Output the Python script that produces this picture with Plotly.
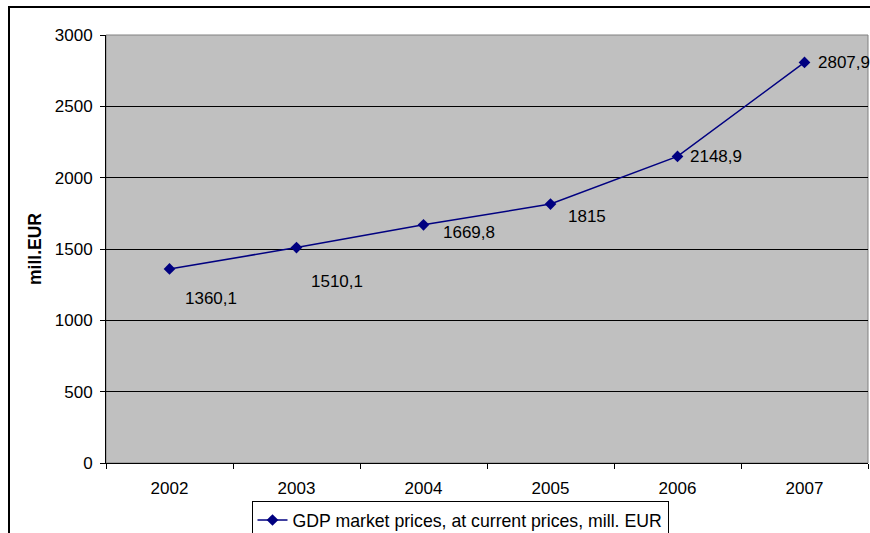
import plotly.graph_objects as go

years = ["2002", "2003", "2004", "2005", "2006", "2007"]
gdp = [1360.1, 1510.1, 1669.8, 1815.0, 2148.9, 2807.9]
series_name = "GDP market prices, at current prices, mill. EUR"
y_title = "mill.EUR"
y_ticks = [0, 500, 1000, 1500, 2000, 2500, 3000]

# label offsets (pixels) for data labels, style only
label_dx = [41, 40, 45, 36, 38, 39]
label_dy = [-30, -34, -8, -12, 0, 0]

FONT = "Liberation Sans, Arial, sans-serif"
FS = 17
W, H = 870, 533
ML, MR, MT, MB = 106, 2, 35, 70
PW = W - ML - MR
PH = H - MT - MB

fig = go.Figure()
fig.add_trace(go.Scatter(
    x=years, y=gdp, mode="lines+markers", name=series_name,
    line=dict(color="#000080", width=1.5),
    marker=dict(symbol="diamond", size=9, color="#000080"),
))

def fmt(v):
    return f"{v:g}".replace(".", ",")

annotations = []
for i, (v, dx, dy) in enumerate(zip(gdp, label_dx, label_dy)):
    annotations.append(dict(
        x=i, y=v, xref="x", yref="y", text=fmt(v), showarrow=False,
        xanchor="center", yanchor="middle",
        xshift=dx, yshift=dy, font=dict(family=FONT, size=FS, color="#000000"),
    ))

shapes = [
    # outer chart frame
    dict(type="rect", xref="paper", yref="paper",
         x0=(9 - ML) / PW, x1=(W + 20 - ML) / PW,
         y0=-(H + 20 - MT - PH) / PH, y1=(MT + PH - 7) / PH,
         line=dict(color="#000000", width=2), fillcolor="rgba(0,0,0,0)", layer="above"),
    # plot area border
    dict(type="rect", xref="paper", yref="paper", x0=0, x1=1, y0=0, y1=1,
         line=dict(color="#808080", width=1), fillcolor="rgba(0,0,0,0)", layer="below"),
]

fig.update_layout(
    width=W, height=H,
    margin=dict(l=ML, r=MR, t=MT, b=MB, pad=0, autoexpand=False),
    paper_bgcolor="#FFFFFF", plot_bgcolor="#C0C0C0",
    font=dict(family=FONT, size=FS, color="#000000"),
    showlegend=True,
    legend=dict(
        xref="container", yref="container",
        x=460 / W, xanchor="center", y=(H - 501) / H, yanchor="top",
        orientation="h", bgcolor="#FFFFFF", bordercolor="#000000", borderwidth=1,
        font=dict(family=FONT, size=17.7, color="#000000"),
        itemwidth=30, tracegroupgap=0,
    ),
    annotations=annotations,
    shapes=shapes,
)

fig.update_xaxes(
    type="category", range=[-0.5, 5.5], tickson="boundaries",
    ticks="outside", ticklen=5, tickcolor="#000000", tickwidth=1,
    showline=True, linecolor="#000000", linewidth=1,
    showgrid=False, zeroline=False, ticklabelstandoff=10,
    tickfont=dict(family=FONT, size=FS, color="#000000"),
)
fig.update_yaxes(
    range=[0, 3000], tickvals=y_ticks,
    ticks="outside", ticklen=5, tickcolor="#000000", tickwidth=1,
    showline=True, linecolor="#000000", linewidth=1,
    showgrid=True, gridcolor="#000000", gridwidth=1, zeroline=False,
    ticklabelstandoff=4,
    tickfont=dict(family=FONT, size=FS, color="#000000"),
    title=dict(text="<b>" + y_title + "</b>", font=dict(family=FONT, size=17.5, color="#000000"), standoff=8),
)

fig.write_html(
    "out.html",
    config={"displayModeBar": False},
    post_script="document.body.style.margin='0';document.body.style.overflow='hidden';",
)
